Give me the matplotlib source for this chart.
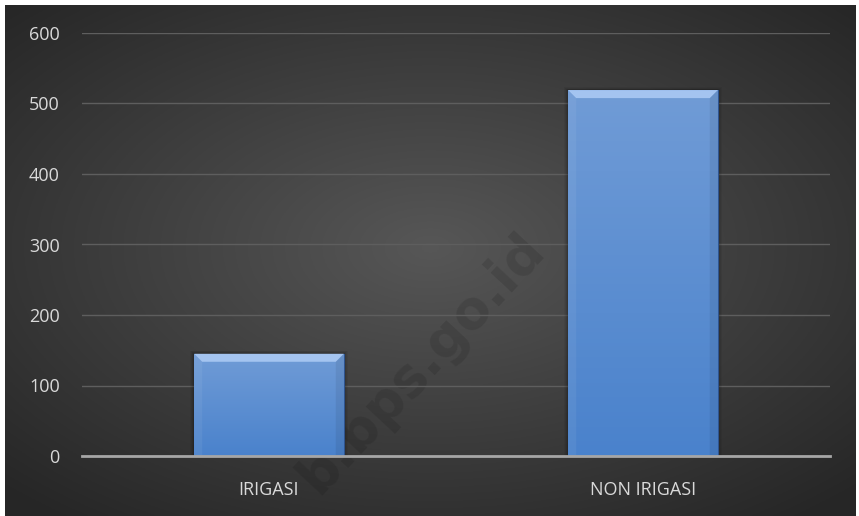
import numpy as np
import matplotlib.pyplot as plt
from matplotlib.patches import Polygon, Rectangle

categories = ["IRIGASI", "NON IRIGASI"]
values = [145, 519]
y_ticks = [0, 100, 200, 300, 400, 500, 600]

W, H = 859, 516
fig = plt.figure(figsize=(W / 100, H / 100), dpi=100)
fig.patch.set_facecolor("white")

# dark radial background (chart area)
bg = fig.add_axes([5 / W, 0, (856 - 5) / W, (H - 5) / H])
bg.set_axis_off()
yy, xx = np.mgrid[-1:1:300j, -1:1:500j]
r = np.sqrt((xx / 1.05) ** 2 + ((yy + 0.05) / 1.0) ** 2)
r = np.clip(r / 1.35, 0, 1)
c_in, c_out = np.array([0.34, 0.34, 0.34]), np.array([0.15, 0.15, 0.15])
img = c_in[None, None, :] * (1 - r[..., None]) + c_out[None, None, :] * r[..., None]
bg.imshow(img, aspect="auto", extent=[0, 1, 0, 1])
bg.set_xlim(0, 1)
bg.set_ylim(0, 1)

# watermark
bg.text(0.49, 0.30, "b.bps.go.id", rotation=47, fontsize=38, fontweight="bold",
        color="black", alpha=0.11, ha="center", va="center", family="DejaVu Sans")

ax = fig.add_axes([82 / W, (H - 456) / H, (830 - 82) / W, (456 - 33) / H])
ax.set_facecolor("none")
ax.set_xlim(-0.5, len(categories) - 0.5)
ax.set_ylim(0, 600)

for s in ["top", "right", "left"]:
    ax.spines[s].set_visible(False)
ax.spines["bottom"].set_color("#a6a6a6")
ax.spines["bottom"].set_linewidth(2)
ax.spines["bottom"].set_zorder(5)

ax.set_yticks(y_ticks)
ax.yaxis.grid(True, color="#5e5e5e", linewidth=1)
ax.set_axisbelow(True)
ax.tick_params(length=0, colors="#d9d9d9", labelsize=13)
ax.tick_params(axis="y", pad=16)
ax.tick_params(axis="x", pad=18)
for lab in ax.get_yticklabels() + ax.get_xticklabels():
    lab.set_family("Open Sans")

x = np.arange(len(categories))
width = 0.4
bars = ax.bar(x, values, width=width, color="none", zorder=3)
ax.set_xticks(x)
ax.set_xticklabels(categories)

# pixel-to-data scales for bevel
ax_w_px = 830 - 82
ax_h_px = 456 - 33
dx = 8 * (len(categories) / ax_w_px)
dy = 8 * (600 / ax_h_px)

grad = np.linspace(0, 1, 100)[:, None]
cmap_top = np.array([0.44, 0.61, 0.84])
cmap_bot = np.array([0.29, 0.51, 0.80])
for b in bars:
    x0, y0 = b.get_x(), b.get_y()
    bw, bh = b.get_width(), b.get_height()
    # soft shadow
    for k, a in [(4, 0.05), (3, 0.06), (2, 0.08), (1, 0.10)]:
        ax.add_patch(Rectangle((x0 - k * dx / 8, y0), bw + 2 * k * dx / 8, bh + k * dy / 10,
                               facecolor="black", alpha=a, lw=0, zorder=2))
    g = cmap_bot[None, None, :] * (1 - grad[..., None]) + cmap_top[None, None, :] * grad[..., None]
    im = ax.imshow(g, extent=[x0, x0 + bw, y0, y0 + bh], origin="lower", aspect="auto", zorder=3)
    im.set_clip_path(b)
    top = y0 + bh
    # bevels
    ax.add_patch(Polygon([(x0, top), (x0 + bw, top), (x0 + bw - dx, top - dy), (x0 + dx, top - dy)],
                         closed=True, facecolor="#a4c4f0", lw=0, zorder=4))
    ax.add_patch(Polygon([(x0, top), (x0 + dx, top - dy), (x0 + dx, y0), (x0, y0)],
                         closed=True, facecolor="white", alpha=0.06, lw=0, zorder=4))
    ax.add_patch(Polygon([(x0 + bw, top), (x0 + bw - dx, top - dy), (x0 + bw - dx, y0), (x0 + bw, y0)],
                         closed=True, facecolor="black", alpha=0.07, lw=0, zorder=4))
    ax.plot([x0 + bw, x0 + bw], [y0, top], color="#2f5590", lw=0.8, zorder=4)

ax.set_xlim(-0.5, len(categories) - 0.5)
ax.set_ylim(0, 600)

fig.savefig("out.png", dpi=100, facecolor=fig.get_facecolor())
